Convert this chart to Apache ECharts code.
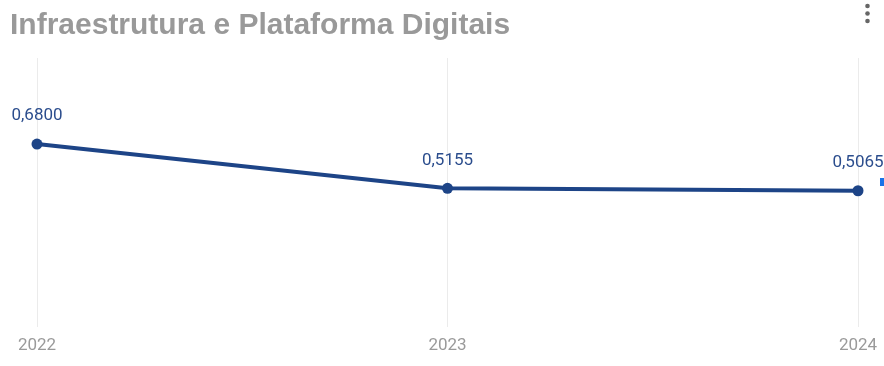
<!DOCTYPE html>
<html><head><meta charset="utf-8">
<script src="https://cdn.jsdelivr.net/npm/echarts@6/dist/echarts.min.js"></script>
<style>html,body{margin:0;padding:0;background:#fff}#c{width:884px;height:366px}</style>
</head><body><div id="c"></div>
<script>
const categories = ['2022', '2023', '2024'];
const values = [0.68, 0.5155, 0.5065];
const titleText = 'Infraestrutura e Plataforma Digitais';

const chart = echarts.init(document.getElementById('c'));
chart.setOption({
  animation: false,
  title: {
    text: titleText, left: 5, top: 6,
    textStyle: { fontFamily: 'Liberation Sans', fontWeight: 'bold', fontSize: 30, color: '#999999' }
  },
  grid: { left: 37, right: 26, top: 58, bottom: 39 },
  xAxis: {
    type: 'category', data: categories, boundaryGap: false,
    axisLine: { show: false }, axisTick: { show: false },
    axisLabel: { color: '#9a9a9a', fontSize: 17, fontFamily: 'Roboto', margin: 10 },
    splitLine: { show: true, lineStyle: { color: '#ebebeb', width: 1 } }
  },
  yAxis: {
    type: 'value', min: 0, max: 1, show: false, splitLine: { show: false }
  },
  series: [{
    type: 'line', data: values,
    lineStyle: { color: '#1d4487', width: 4 },
    itemStyle: { color: '#1d4487' },
    symbol: 'circle', symbolSize: 11,
    label: {
      show: true, position: 'top', distance: 14,
      color: '#2b4d8d', fontSize: 17, fontFamily: 'Roboto',
      formatter: p => p.value.toFixed(4).replace('.', ',')
    }
  }],
  graphic: [
    { type: 'circle', shape: { cx: 867.5, cy: 6, r: 2.3 }, style: { fill: '#666' } },
    { type: 'circle', shape: { cx: 867.5, cy: 13.5, r: 2.3 }, style: { fill: '#666' } },
    { type: 'circle', shape: { cx: 867.5, cy: 21, r: 2.3 }, style: { fill: '#666' } },
    { type: 'rect', shape: { x: 880, y: 178, width: 4, height: 8 }, style: { fill: '#1a73e8' } }
  ]
});
</script></body></html>
